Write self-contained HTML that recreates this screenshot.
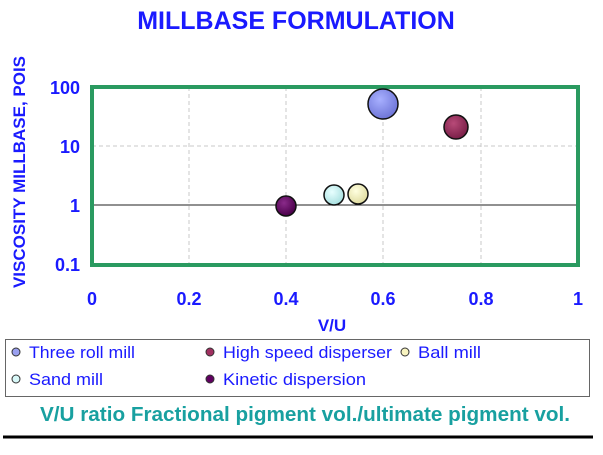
<!DOCTYPE html>
<html><head><meta charset="utf-8"><style>
body{margin:0;background:#fff;width:603px;height:450px;overflow:hidden;font-family:"Liberation Sans",sans-serif}
</style></head><body>
<svg width="603" height="450" viewBox="0 0 603 450" xmlns="http://www.w3.org/2000/svg" font-family="Liberation Sans, sans-serif">
<defs>
<radialGradient id="g1" cx="40%" cy="35%" r="65%"><stop offset="0" stop-color="#a8b0ff"/><stop offset="1" stop-color="#6f76d8"/></radialGradient>
<radialGradient id="g2" cx="40%" cy="35%" r="65%"><stop offset="0" stop-color="#b84a78"/><stop offset="1" stop-color="#7a1f48"/></radialGradient>
<radialGradient id="g3" cx="40%" cy="35%" r="65%"><stop offset="0" stop-color="#ffffe0"/><stop offset="1" stop-color="#e0dca0"/></radialGradient>
<radialGradient id="g4" cx="40%" cy="35%" r="65%"><stop offset="0" stop-color="#e8ffff"/><stop offset="1" stop-color="#a8e0e0"/></radialGradient>
<radialGradient id="g5" cx="40%" cy="35%" r="65%"><stop offset="0" stop-color="#8a2a8a"/><stop offset="1" stop-color="#4a004a"/></radialGradient>
</defs>
<text x="296" y="29" text-anchor="middle" font-size="25" font-weight="bold" fill="#1a1aff">MILLBASE FORMULATION</text>
<g stroke="#c8c8c8" stroke-dasharray="4,3" stroke-width="1">
<line x1="189" y1="87" x2="189" y2="265"/><line x1="286" y1="87" x2="286" y2="265"/>
<line x1="383" y1="87" x2="383" y2="265"/><line x1="481" y1="87" x2="481" y2="265"/>
<line x1="92" y1="146" x2="578" y2="146"/>
</g>
<line x1="92" y1="205" x2="578" y2="205" stroke="#222" stroke-width="1"/>
<rect x="92" y="87" width="486" height="178" fill="none" stroke="#2a9a60" stroke-width="4"/>
<g font-size="18" font-weight="bold" fill="#1a1aff" text-anchor="end">
<text x="80" y="94">100</text><text x="80" y="153">10</text><text x="80" y="212">1</text><text x="80" y="271">0.1</text>
</g>
<g font-size="18" font-weight="bold" fill="#1a1aff" text-anchor="middle">
<text x="92" y="305">0</text><text x="189" y="305">0.2</text><text x="286" y="305">0.4</text><text x="383" y="305">0.6</text><text x="481" y="305">0.8</text><text x="578" y="305">1</text>
</g>
<text x="332" y="331" text-anchor="middle" font-size="17" font-weight="bold" fill="#1a1aff">V/U</text>
<text transform="translate(25,172) rotate(-90)" text-anchor="middle" font-size="17" font-weight="bold" fill="#1a1aff">VISCOSITY MILLBASE, POIS</text>
<g stroke="#111" stroke-width="1.5">
<circle cx="383" cy="104" r="15" fill="url(#g1)"/>
<circle cx="456" cy="127" r="12" fill="url(#g2)"/>
<circle cx="358" cy="194" r="10" fill="url(#g3)"/>
<circle cx="334" cy="195" r="10" fill="url(#g4)"/>
<circle cx="286" cy="206" r="10" fill="url(#g5)"/>
</g>
<rect x="5.5" y="339.5" width="584" height="57" fill="#fff" stroke="#666" stroke-width="1"/>
<g stroke="#333" stroke-width="1">
<circle cx="16" cy="352" r="4" fill="#9aa0f0"/><circle cx="210" cy="352" r="4" fill="#a03060"/><circle cx="405" cy="352" r="4" fill="#f8f4c0"/>
<circle cx="16" cy="379" r="4" fill="#d8f8f8"/><circle cx="210" cy="379" r="4" fill="#600060"/>
</g>
<g font-size="17" fill="#1a1aff">
<text x="29" y="358" textLength="106" lengthAdjust="spacingAndGlyphs">Three roll mill</text>
<text x="223" y="358" textLength="169" lengthAdjust="spacingAndGlyphs">High speed disperser</text>
<text x="418" y="358" textLength="63" lengthAdjust="spacingAndGlyphs">Ball mill</text>
<text x="29" y="385" textLength="74" lengthAdjust="spacingAndGlyphs">Sand mill</text>
<text x="223" y="385" textLength="143" lengthAdjust="spacingAndGlyphs">Kinetic dispersion</text>
</g>
<text x="40" y="421" font-size="20.5" font-weight="bold" fill="#18a0a0" textLength="530" lengthAdjust="spacingAndGlyphs">V/U ratio Fractional pigment vol./ultimate pigment vol.</text>
<line x1="3" y1="437" x2="593" y2="437" stroke="#000" stroke-width="3"/>
</svg>
</body></html>
